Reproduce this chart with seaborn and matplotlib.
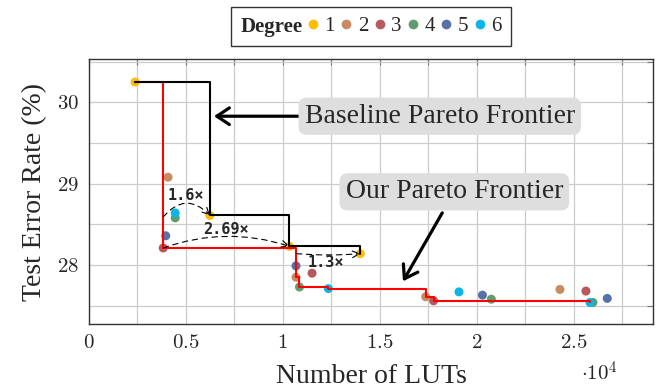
import numpy as np
import pandas as pd
import seaborn as sns
import matplotlib
matplotlib.use("Agg")
import matplotlib.pyplot as plt
from matplotlib.lines import Line2D
from matplotlib.offsetbox import HPacker
from matplotlib.ticker import MultipleLocator, FuncFormatter

# LUT counts and test error (%) per polynomial degree
luts_deg1 = [2380, 6240, 10340, 14000]
err_deg1 = [30.25, 28.61, 28.23, 28.14]
luts_deg2 = [4080, 10680, 17370, 24300]
err_deg2 = [29.08, 27.85, 27.61, 27.70]
luts_deg3 = [3830, 11510, 17780, 25640]
err_deg3 = [28.21, 27.90, 27.56, 27.68]
luts_deg4 = [4450, 10860, 20760, 26000]
err_deg4 = [28.58, 27.73, 27.58, 27.54]
luts_deg5 = [3960, 10680, 20300, 26740]
err_deg5 = [28.36, 27.99, 27.63, 27.59]
luts_deg6 = [4450, 12350, 19090, 25850]
err_deg6 = [28.64, 27.71, 27.67, 27.54]

degree_labels = ["1", "2", "3", "4", "5", "6"]
degree_colors = ["#FFBC00", "#C98A62", "#B8595E", "#5E9E6E", "#5673A8", "#0BB5E8"]

speedup_labels = ["1.6×", "2.69×", "1.3×"]

sns.set_theme(style="white")
plt.rcParams["font.family"] = ["Liberation Serif", "DejaVu Serif"]
plt.rcParams["mathtext.fontset"] = "cm"

frames = []
for d, xs, ys in zip(degree_labels,
                     [luts_deg1, luts_deg2, luts_deg3, luts_deg4, luts_deg5, luts_deg6],
                     [err_deg1, err_deg2, err_deg3, err_deg4, err_deg5, err_deg6]):
    frames.append(pd.DataFrame({"luts": xs, "err": ys, "degree": d}))
df = pd.concat(frames, ignore_index=True)
palette = dict(zip(degree_labels, degree_colors))


def pareto(frame):
    f = frame.sort_values(["luts", "err"])
    keep, best = [], np.inf
    for _, r in f.iterrows():
        if r["err"] < best:
            keep.append((r["luts"], r["err"]))
            best = r["err"]
    return np.array(keep)


fig = plt.figure(figsize=(6.62, 3.90), dpi=100)
ax = fig.add_axes([0.1344, 0.1692, 0.8520, 0.6788])

sns.scatterplot(data=df, x="luts", y="err", hue="degree", palette=palette,
                s=42, edgecolor="none", legend=False, ax=ax, zorder=3)

base = pareto(df[df["degree"] == "1"])
ours = pareto(df)
ax.plot(ours[:, 0], ours[:, 1], drawstyle="steps-post", color="#FF0000", lw=1.5, zorder=4)
ax.plot(base[:, 0], base[:, 1], drawstyle="steps-post", color="black", lw=1.5, zorder=4)

ax.set_xlim(0, 29100)
ax.set_ylim(27.275, 30.53)
ax.xaxis.set_major_locator(MultipleLocator(5000))
ax.xaxis.set_minor_locator(MultipleLocator(2500))
ax.yaxis.set_major_locator(MultipleLocator(1))
ax.yaxis.set_minor_locator(MultipleLocator(0.5))
ax.xaxis.set_major_formatter(FuncFormatter(lambda v, p: f"${v / 1e4:g}$"))
ax.yaxis.set_major_formatter(FuncFormatter(lambda v, p: f"${v:g}$"))
ax.grid(which="both", color="#CCCCCC", lw=0.9)
ax.set_axisbelow(True)
ax.tick_params(which="both", direction="in", top=True, right=True, color="#777777",
               length=4, width=0.8, labelsize=15, pad=7)
for s in ax.spines.values():
    s.set_color("#333333")
    s.set_linewidth(1.0)

ax.set_xlabel("Number of LUTs", fontsize=20, labelpad=8)
ax.set_ylabel("Test Error Rate (%)", fontsize=20, labelpad=7)
fig.text(0.878, 0.012, r"$\cdot 10^4$", fontsize=15, ha="left", va="bottom")

# frontier call-outs
box = dict(boxstyle="round,pad=0.22,rounding_size=0.3", fc="#DEDEDE", ec="none")
ax.annotate("Baseline Pareto Frontier", xy=(6450, 29.83), xytext=(18100, 29.83),
            fontsize=20, ha="center", va="center", bbox=box,
            arrowprops=dict(arrowstyle="->,head_length=0.45,head_width=0.3", lw=2.3,
                            color="black", shrinkA=0, shrinkB=0, mutation_scale=20))
ax.annotate("Our Pareto Frontier", xy=(16200, 27.80), xytext=(18850, 28.90),
            fontsize=20, ha="center", va="center", bbox=box,
            arrowprops=dict(arrowstyle="->,head_length=0.45,head_width=0.3", lw=2.3,
                            color="black", shrinkA=2, shrinkB=0, mutation_scale=20))

# speed-up arcs between the two frontiers
arcs = [((3830, 28.59), (6240, 28.61), (5000, 28.86), -0.55),
        ((3830, 28.21), (10340, 28.23), (7060, 28.44), -0.17),
        ((10700, 28.14), (14000, 28.14), (12230, 28.03), 0.04)]
for lab, (p0, p1, pt, rad) in zip(speedup_labels, arcs):
    ax.annotate("", xy=p1, xytext=p0,
                arrowprops=dict(arrowstyle="->", lw=0.8, ls=(0, (5, 4)), color="black",
                                shrinkA=0, shrinkB=0,
                                connectionstyle=f"arc3,rad={rad}"), zorder=5)
    ax.text(pt[0], pt[1], lab, fontsize=11, fontweight="bold", ha="center", va="center",
            family=["DejaVu Sans Mono"], zorder=6)

# legend with inline bold title
handles = [Line2D([], [], ls="none", marker="o", ms=7, mec="none", mfc=c)
           for c in degree_colors]
leg = fig.legend(handles, degree_labels, loc="center", bbox_to_anchor=(0.5605, 0.932),
                 ncol=6, frameon=True, fancybox=False, fontsize=15, handlelength=0.6,
                 handletextpad=0.25, columnspacing=0.25, borderpad=0.45,
                 title="Degree", title_fontproperties={"weight": "bold", "size": 15})
fs = leg._fontsize
leg._legend_box = HPacker(pad=leg.borderpad * fs, sep=0.2 * fs, align="center",
                          children=[leg._legend_title_box, leg._legend_handle_box])
leg._legend_box.set_figure(fig)
leg._legend_box.set_offset(leg._findoffset)
leg.get_frame().set_edgecolor("black")
leg.get_frame().set_linewidth(1.0)

fig.savefig("out.png", dpi=100)
